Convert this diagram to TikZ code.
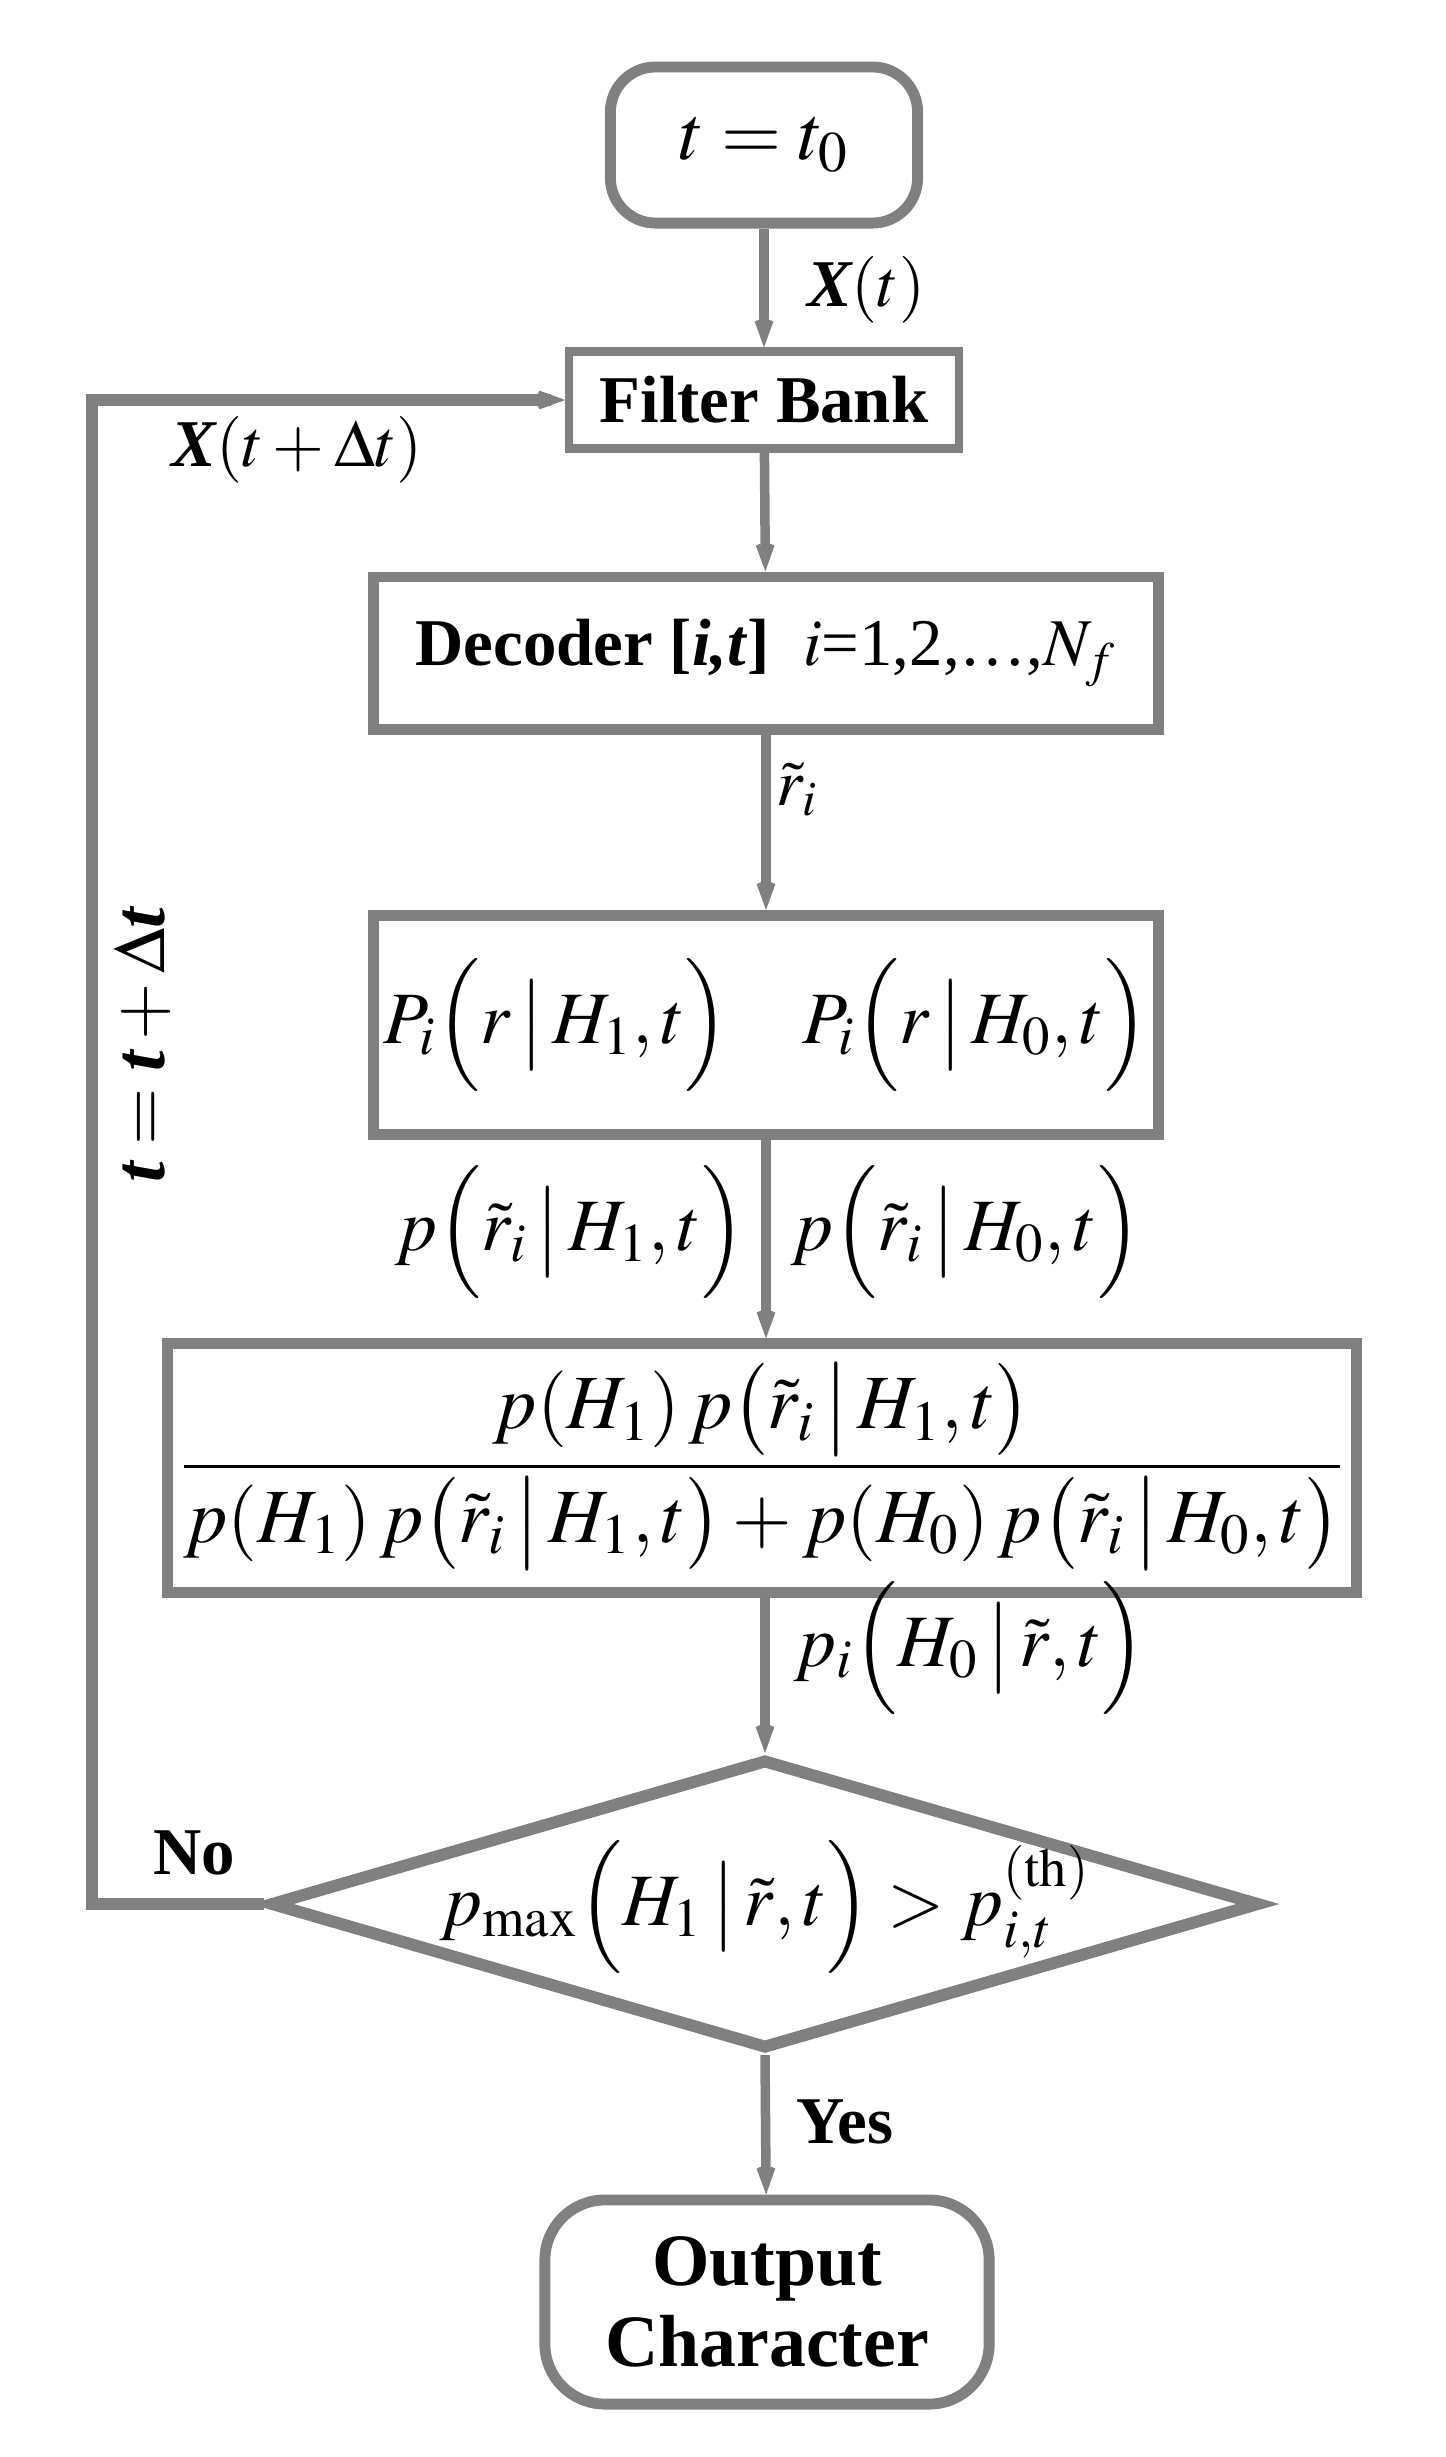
\documentclass[tikz,border=0pt]{standalone}
\usepackage{amsmath}
\usepackage{mathptmx}
\usepackage{fontspec}
\setmainfont{Liberation Serif}
\usetikzlibrary{shapes.geometric,arrows.meta}
\definecolor{edgegray}{RGB}{128,128,128}
\newcommand{\bfit}[1]{\text{\bfseries\itshape #1}}
\newcommand{\flatbox}[2]{\makebox[0pt]{\raisebox{#1}[0pt][0pt]{#2}}}
\begin{document}
\begin{tikzpicture}[x=0.01cm,y=-0.01cm,
  font=\fontsize{19}{23}\selectfont,
  mathfont/.style={font=\fontsize{#1}{#1}\selectfont},
  box/.style={draw=edgegray, line width=3.1pt, fill=white, inner sep=0pt, align=center},
  conn/.style={draw=edgegray, line width=2.7pt, -{Stealth[length=5.4mm,width=3.9mm,inset=3.6mm]}},
  loopline/.style={draw=edgegray, line width=3.3pt},
  lbl/.style={inner sep=0pt}]
\useasboundingbox (0,0) rectangle (1445,2457);

\node[box, rounded corners=0.45cm, minimum width=3.07cm, minimum height=1.56cm,
      mathfont=22] (start) at (764,145) {$t=t_0$};
\node[box, line width=2.3pt, minimum width=3.89cm, minimum height=0.97cm] (fb) at (764,400)
      {\textbf{Filter Bank}};
\node[box, minimum width=7.84cm, minimum height=1.52cm] (dec) at (766,653)
      {\textbf{Decoder [\textit{i,t}]}\enspace $i$=1,2,\ldots,$N_f$};
\node[box, minimum width=7.84cm, minimum height=2.19cm, mathfont=21] (pb) at (766,1025)
      {$P_i\Bigl(r\,\big|\,H_1,t\Bigr)\quad P_i\Bigl(r\,\big|\,H_0,t\Bigr)$};
\node[box, minimum width=11.88cm, minimum height=2.48cm, mathfont=21.8] (frac) at (762,1468)
      {\flatbox{-5pt}{$\dfrac{p(H_1)\,p\bigl(\tilde r_i\,\big|\,H_1,t\bigr)}
              {p(H_1)\,p\bigl(\tilde r_i\,\big|\,H_1,t\bigr)+p(H_0)\,p\bigl(\tilde r_i\,\big|\,H_0,t\bigr)}$}};
\node[box, shape=diamond, line width=3.4pt, minimum width=9.9cm, minimum height=2.9cm,
      mathfont=21] (dia) at (765,1904)
      {\flatbox{-6pt}{$p_{\mathrm{max}}\Bigl(H_1\,\big|\,\tilde r,t\Bigr)>p_{i,t}^{(\mathrm{th})}$}};
\node[box, rounded corners=0.6cm, minimum width=4.44cm, minimum height=2.04cm,
      font=\fontsize{21}{25}\selectfont] (out) at (767,2302)
      {\textbf{Output}\\[-2pt]\textbf{Character}};

\draw[conn] (start) -- (fb);
\draw[conn] (fb) -- (dec);
\draw[conn] (dec) -- (pb);
\draw[conn] (pb) -- (frac.north -| pb.south);
\draw[conn] (frac.south -| dia.north) -- (dia.north);
\draw[conn] (dia.south) -- (out);

\coordinate (cl) at (92,1904);
\coordinate (cu) at (92,400);
\draw[loopline] (dia.west) -- (cl) -- (cu) -- ([xshift=-20pt]fb.west);
\draw[conn, line width=3.3pt] (cu) -- (fb.west);

\node[lbl] (lx) at (866,290) {$\bfit{X}(t)$};
\node[lbl] (lxd) at (297,450) {$\bfit{X}(t+\Delta t)$};
\node[lbl, rotate=90, mathfont=21] (ltt) at (142,1045)
      {$\bfit{t}=\bfit{t}+\Delta\bfit{t}$};
\node[lbl] (lr) at (797,790) {$\tilde r_i$};
\node[lbl, mathfont=21] (lp1) at (570,1232)
      {$p\Bigl(\tilde r_i\,\big|\,H_1,t\Bigr)$};
\node[lbl, mathfont=21] (lp0) at (966,1232)
      {$p\Bigl(\tilde r_i\,\big|\,H_0,t\Bigr)$};
\node[lbl, mathfont=21] (lpi) at (970,1648)
      {$p_i\Bigl(H_0\,\big|\,\tilde r,t\Bigr)$};
\node[lbl] (lno) at (194,1853) {\textbf{No}};
\node[lbl] (lyes) at (845,2122) {\textbf{Yes}};
\end{tikzpicture}
\end{document}
